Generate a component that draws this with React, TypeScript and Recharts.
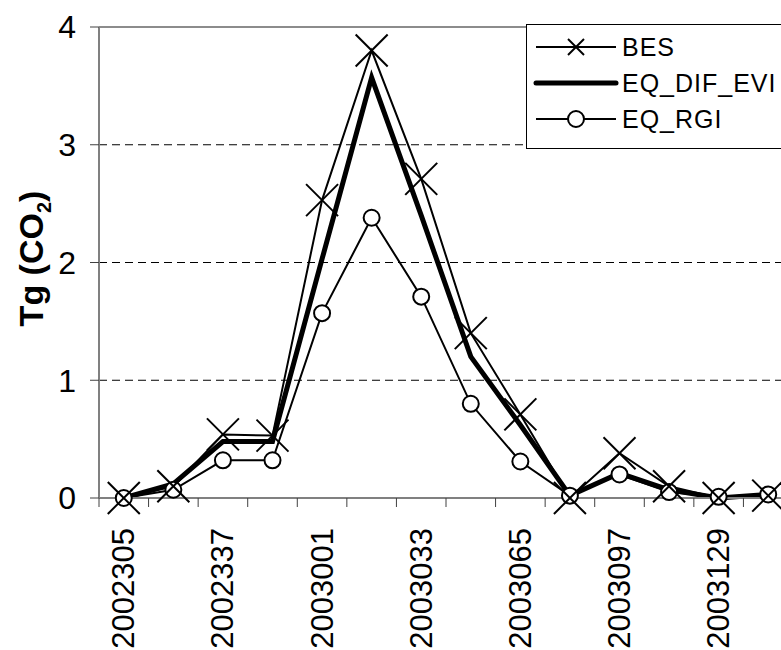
import React from 'react';
import { LineChart, Line, XAxis, YAxis, ReferenceLine } from 'recharts';

const categories = ['2002305','2002321','2002337','2002353','2003001','2003017','2003033','2003049','2003065','2003081','2003097','2003113','2003129','2003145'];
const besValues = [0, 0.1, 0.54, 0.53, 2.53, 3.8, 2.71, 1.4, 0.71, 0, 0.38, 0.1, 0, 0.02];
const eviValues = [0, 0.12, 0.48, 0.48, 2.03, 3.57, 2.4, 1.2, 0.62, 0.02, 0.21, 0.07, 0, 0.03];
const rgiValues = [0, 0.07, 0.32, 0.32, 1.57, 2.38, 1.71, 0.8, 0.31, 0.02, 0.2, 0.05, 0.01, 0.03];
const yTicks = [0, 1, 2, 3, 4];
const seriesNames = ['BES', 'EQ_DIF_EVI', 'EQ_RGI'];

const data = categories.map((c, i) => ({
  x: i + 0.5,
  cat: c,
  BES: besValues[i],
  EQ_DIF_EVI: eviValues[i],
  EQ_RGI: rgiValues[i],
}));

const xTicks: number[] = [];
for (let i = 0; i <= categories.length; i++) {
  xTicks.push(i);
  if (i < categories.length && i % 2 === 0) xTicks.push(i + 0.5);
}

const FONT = '"Liberation Sans", Arial, sans-serif';

const XTick = (props: any) => {
  const { x, y, payload } = props;
  const v = payload.value;
  const axisY = y - 9;
  if (Number.isInteger(v)) {
    return <line x1={x} x2={x} y1={axisY} y2={axisY + 9} stroke="#404040" strokeWidth={1} />;
  }
  const label = categories[Math.floor(v)];
  const ty = axisY + 30;
  return (
    <text
      x={x}
      y={ty}
      transform={`rotate(-90, ${x}, ${ty})`}
      textAnchor="end"
      dominantBaseline="central"
      fontSize={31}
      fontFamily={FONT}
      fill="#000"
    >
      {label}
    </text>
  );
};

const CrossDot = (props: any) => {
  const { cx, cy, size = 16, sw = 2 } = props;
  if (cx == null || cy == null) return null;
  return (
    <g>
      <line x1={cx - size} y1={cy - size} x2={cx + size} y2={cy + size} stroke="#000" strokeWidth={sw} />
      <line x1={cx - size} y1={cy + size} x2={cx + size} y2={cy - size} stroke="#000" strokeWidth={sw} />
    </g>
  );
};

const CircleDot = (props: any) => {
  const { cx, cy } = props;
  if (cx == null || cy == null) return null;
  return <circle cx={cx} cy={cy} r={8} fill="#fff" stroke="#000" strokeWidth={2} />;
};

const YLabel = (props: any) => {
  const vb = props.viewBox || {};
  const cy = (vb.y ?? 27) + (vb.height ?? 471) / 2 - 4;
  const cx = 43;
  return (
    <g transform={`translate(${cx}, ${cy}) rotate(-90)`}>
      <text x={0} y={0} textAnchor="middle" fontSize={34} fontWeight="bold" fontFamily={FONT} fill="#000">
        Tg (CO<tspan fontSize={20} dy={8}>2</tspan><tspan dy={-8}>)</tspan>
      </text>
    </g>
  );
};

const LegendBox = () => (
  <svg width={300} height={130} style={{ position: 'absolute', left: 526, top: 24 }}>
    <rect x={0.5} y={0.5} width={320} height={124} fill="#fff" stroke="#000" strokeWidth={1} />
    {seriesNames.map((name, i) => {
      const y = 23 + i * 36;
      return (
        <g key={name}>
          <line x1={10} x2={90} y1={y} y2={y} stroke="#000" strokeWidth={i === 1 ? 5 : 2} strokeLinecap={i === 1 ? 'round' : 'butt'} />
          {i === 0 && <CrossDot cx={50} cy={y} size={8} sw={2} />}
          {i === 2 && <circle cx={50} cy={y} r={8} fill="#fff" stroke="#000" strokeWidth={2} />}
          <text x={96} y={y} dominantBaseline="central" fontSize={25} fontFamily={FONT} letterSpacing={1} fill="#000">
            {name}
          </text>
        </g>
      );
    })}
  </svg>
);

export default function App() {
  return (
    <div style={{ position: 'fixed', left: 0, top: 0, width: 781, height: 650, overflow: 'hidden', background: '#fff' }}>
      <LineChart width={830} height={650} data={data} margin={{ top: 27, right: 37, bottom: 0, left: 0 }}>
        <ReferenceLine y={1} stroke="#000" strokeDasharray="8 5" strokeWidth={1} />
        <ReferenceLine y={2} stroke="#000" strokeDasharray="8 5" strokeWidth={1} />
        <ReferenceLine y={3} stroke="#000" strokeDasharray="8 5" strokeWidth={1} />
        <ReferenceLine y={4} stroke="#8c8c8c" strokeWidth={2} />
        <XAxis
          type="number"
          dataKey="x"
          domain={[0, categories.length]}
          ticks={xTicks}
          interval={0}
          tickLine={false}
          tickSize={9}
          tickMargin={0}
          height={152}
          axisLine={{ stroke: '#808080', strokeWidth: 2 }}
          tick={<XTick />}
          allowDataOverflow
        />
        <YAxis
          type="number"
          domain={[0, 4]}
          ticks={yTicks}
          interval={0}
          width={99}
          tickSize={9}
          tickMargin={14}
          tickLine={{ stroke: '#404040', strokeWidth: 1 }}
          axisLine={{ stroke: '#808080', strokeWidth: 2 }}
          tick={{ fontSize: 32, fill: '#000', fontFamily: FONT }}
          label={<YLabel />}
        />
        <Line type="linear" dataKey="EQ_DIF_EVI" stroke="#000" strokeWidth={5} dot={false} activeDot={false} isAnimationActive={false} />
        <Line type="linear" dataKey="EQ_RGI" stroke="#000" strokeWidth={2} dot={<CircleDot />} activeDot={false} isAnimationActive={false} />
        <Line type="linear" dataKey="BES" stroke="#000" strokeWidth={2} dot={<CrossDot />} activeDot={false} isAnimationActive={false} />
      </LineChart>
      <LegendBox />
    </div>
  );
}
